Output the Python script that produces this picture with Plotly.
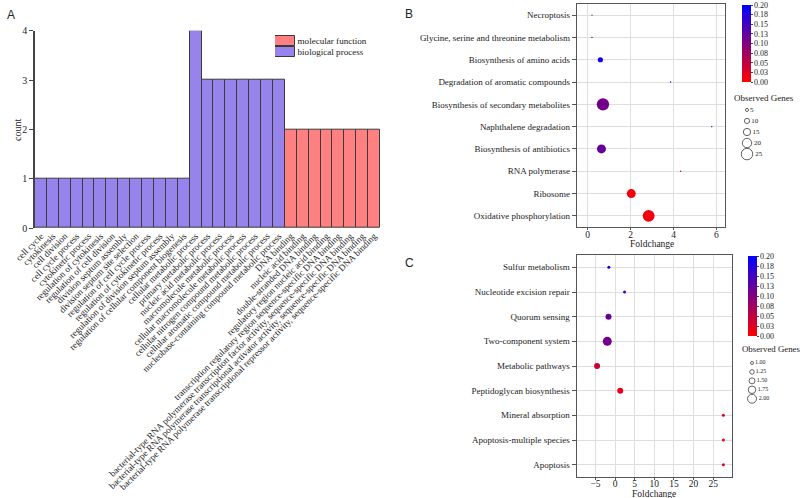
import plotly.graph_objects as go

W, H = 800, 498
SERIF = "Liberation Serif"

# ---------------- Panel A data ----------------
bp_terms = [
    "cell cycle", "cytokinesis", "cell division", "cell cycle process",
    "cytokinetic process", "regulation of cytokinesis", "regulation of cell division",
    "division septum assembly", "division septum site selection",
    "regulation of cell cycle process", "regulation of cytokinetic process",
    "regulation of division septum assembly", "regulation of cellular component biogenesis",
    "cellular metabolic process", "primary metabolic process",
    "nucleic acid metabolic process", "macromolecule metabolic process",
    "cellular macromolecule metabolic process", "cellular nitrogen compound metabolic process",
    "cellular aromatic compound metabolic process",
    "nucleobase-containing compound metabolic process",
]
bp_counts = [1, 1, 1, 1, 1, 1, 1, 1, 1, 1, 1, 1, 1, 4, 3, 3, 3, 3, 3, 3, 3]
mf_terms = [
    "DNA binding", "nucleic acid binding", "double-stranded DNA binding",
    "regulatory region nucleic acid binding",
    "transcription regulatory region sequence-specific DNA binding",
    "bacterial-type RNA polymerase transcription factor activity, sequence-specific DNA binding",
    "bacterial-type RNA polymerase transcriptional activator activity, sequence-specific DNA binding",
    "bacterial-type RNA polymerase transcriptional repressor activity, sequence-specific DNA binding",
]
mf_counts = [2, 2, 2, 2, 2, 2, 2, 2]
count_ticks = [0, 1, 2, 3, 4]
legend_names = ["molecular function", "biological process"]
legend_colors = ["#FF8080", "#9683EC"]
legend_swatch = [1, 1]

# ---------------- Panel B data ----------------
path_B = [
    "Necroptosis", "Glycine, serine and threonine metabolism", "Biosynthesis of amino acids",
    "Degradation of aromatic compounds", "Biosynthesis of secondary metabolites",
    "Naphthalene degradation", "Biosynthesis of antibiotics", "RNA polymerase",
    "Ribosome", "Oxidative phosphorylation",
]
fold_B = [0.2, 0.2, 0.59, 3.86, 0.71, 5.78, 0.64, 4.33, 2.03, 2.84]
genes_B = [0.3, 0.8, 10, 1, 27, 1, 19, 1, 19, 26]
p_B = [0.15, 0.15, 0.19, 0.16, 0.11, 0.12, 0.12, 0.06, 0.01, 0.01]
legend_genes_B = [5, 10, 15, 20, 25]

# ---------------- Panel C data ----------------
path_C = [
    "Sulfur metabolism", "Nucleotide excision repair", "Quorum sensing",
    "Two-component system", "Metabolic pathways", "Peptidoglycan biosynthesis",
    "Mineral absorption", "Apoptosis-multiple species", "Apoptosis",
]
fold_C = [-1.6, 2.4, -1.7, -2.0, -4.6, 1.3, 27.6, 27.6, 27.6]
genes_C = [1, 1, 1.5, 2, 1.5, 1.5, 1, 1, 1]
p_C = [0.19, 0.15, 0.12, 0.11, 0.04, 0.02, 0.03, 0.03, 0.03]
legend_genes_C = [1.00, 1.25, 1.50, 1.75, 2.00]

cbar_vals = [0, 0.025, 0.05, 0.075, 0.1, 0.125, 0.15, 0.175, 0.2]
cbar_text = ["0.00", "0.03", "0.05", "0.08", "0.10", "0.13", "0.15", "0.18", "0.20"]


def dxp(a, b):
    return [a / W, b / W]


def dyp(top, bottom):
    return [1 - bottom / H, 1 - top / H]


def size_B(g):
    return 0.42 * g + 1


def size_C(g):
    return 3 + 6 * (g - 1)


fig = go.Figure()

# Panel A bars
fig.add_trace(go.Bar(
    x=bp_terms, y=bp_counts, name="biological process", xaxis="x", yaxis="y",
    marker=dict(color="#9683EC", line=dict(color="#3a3a3a", width=1)), showlegend=False,
))
fig.add_trace(go.Bar(
    x=mf_terms, y=mf_counts, name="molecular function", xaxis="x", yaxis="y",
    marker=dict(color="#FF8080", line=dict(color="#3a3a3a", width=1)), showlegend=False,
))
# Panel A legend swatches
fig.add_trace(go.Bar(
    y=legend_names, x=legend_swatch, orientation="h", xaxis="x6", yaxis="y6",
    marker=dict(color=legend_colors, line=dict(color="#3a3a3a", width=1)),
    text=legend_names, textposition="outside", cliponaxis=False, width=0.9,
    textfont=dict(family=SERIF, size=10, color="#222"), showlegend=False,
    hoverinfo="skip",
))

# Panel B bubbles
fig.add_trace(go.Scatter(
    x=fold_B, y=path_B, mode="markers", xaxis="x2", yaxis="y2", showlegend=False,
    marker=dict(size=[size_B(g) for g in genes_B], color=p_B, coloraxis="coloraxis",
                line=dict(width=0), opacity=1),
))
# Panel C bubbles
fig.add_trace(go.Scatter(
    x=fold_C, y=path_C, mode="markers", xaxis="x3", yaxis="y3", showlegend=False,
    marker=dict(size=[size_C(g) for g in genes_C], color=p_C, coloraxis="coloraxis2",
                line=dict(width=0), opacity=1),
))

# Size legend B
fig.add_trace(go.Scatter(
    x=[0] * len(legend_genes_B), y=legend_genes_B, mode="markers+text",
    text=[f"{v}" for v in legend_genes_B], textposition="middle right",
    textfont=dict(family=SERIF, size=7, color="#222"),
    xaxis="x4", yaxis="y4", showlegend=False, cliponaxis=False,
    marker=dict(size=[size_B(g) for g in legend_genes_B], color="white",
                line=dict(color="#222", width=1)),
))
# Size legend C
fig.add_trace(go.Scatter(
    x=[0] * len(legend_genes_C), y=legend_genes_C, mode="markers+text",
    text=[f"{v:.2f}" for v in legend_genes_C], textposition="middle right",
    textfont=dict(family=SERIF, size=6, color="#222"),
    xaxis="x5", yaxis="y5", showlegend=False, cliponaxis=False,
    marker=dict(size=[size_C(g) for g in legend_genes_C], color="white",
                line=dict(color="#222", width=1)),
))

all_terms = bp_terms + mf_terms
frame = "#555555"
grid = "#dedede"

cb_common = dict(
    thickness=9, thicknessmode="pixels", lenmode="fraction", outlinewidth=0,
    tickvals=cbar_vals, ticktext=cbar_text, ticks="outside", ticklen=2,
    tickfont=dict(family=SERIF, size=8, color="#222"), xanchor="left", yanchor="top",
    xpad=0, ypad=0,
)
cscale = [[0, "#FF0000"], [1, "#0000FF"]]

fig.update_layout(
    width=W, height=H, margin=dict(l=0, r=0, t=0, b=0),
    paper_bgcolor="white", plot_bgcolor="white",
    barmode="group", bargap=0, bargroupgap=0,
    font=dict(family=SERIF, color="#222"),
    showlegend=False,
    xaxis=dict(domain=dxp(35, 380), type="category", categoryorder="array",
               categoryarray=all_terms, range=[-0.5, 28.5], tickangle=-45,
               tickfont=dict(family=SERIF, size=9.2, color="#222"), ticks="",
               showline=False, showgrid=False, automargin=False, fixedrange=True),
    yaxis=dict(domain=dyp(30.7, 228), range=[0, 4], tickvals=count_ticks,
               ticks="outside", ticklen=4, tickcolor="#444", showline=True,
               linecolor="#444", linewidth=1.5, showgrid=False, zeroline=False,
               tickfont=dict(family=SERIF, size=10, color="#222"), automargin=False),
    xaxis6=dict(domain=dxp(275, 365), range=[0, 4.5], visible=False, anchor="y6"),
    yaxis6=dict(domain=dyp(35, 58), type="category", categoryorder="array",
                categoryarray=legend_names, range=[1.5, -0.5], visible=False, anchor="x6"),
    xaxis2=dict(domain=dxp(577, 725), range=[-0.5, 6.4], dtick=2, anchor="y2",
                showgrid=True, gridcolor=grid, gridwidth=1.2, zeroline=False,
                showline=True, mirror=True, linecolor=frame, linewidth=1.2,
                ticks="outside", ticklen=2, tickcolor=frame, ticklabelstandoff=-4,
                tickfont=dict(family=SERIF, size=9.5, color="#222"), automargin=False),
    yaxis2=dict(domain=dyp(4, 227), type="category", categoryorder="array",
                categoryarray=path_B, range=[9.5, -0.5], anchor="x2",
                showgrid=True, gridcolor=grid, gridwidth=1.2,
                showline=True, mirror=True, linecolor=frame, linewidth=1.2,
                ticks="outside", ticklen=4, tickcolor=frame,
                minor=dict(ticks="outside", ticklen=2, tickcolor=frame, showgrid=False),
                tickfont=dict(family=SERIF, size=9, color="#222"), automargin=False),
    xaxis3=dict(domain=dxp(576.7, 732), range=[-9.8, 29.8], dtick=5, anchor="y3",
                showgrid=True, gridcolor=grid, gridwidth=1.2, zeroline=False,
                showline=True, mirror=True, linecolor=frame, linewidth=1.2,
                ticks="outside", ticklen=2, tickcolor=frame, ticklabelstandoff=-5,
                tickfont=dict(family=SERIF, size=9.5, color="#222"), automargin=False),
    yaxis3=dict(domain=dyp(255, 477), type="category", categoryorder="array",
                categoryarray=path_C, range=[8.5, -0.5], anchor="x3",
                showgrid=True, gridcolor=grid, gridwidth=1.2,
                showline=True, mirror=True, linecolor=frame, linewidth=1.2,
                ticks="outside", ticklen=4, tickcolor=frame,
                minor=dict(ticks="outside", ticklen=2, tickcolor=frame, showgrid=False),
                tickfont=dict(family=SERIF, size=9, color="#222"), automargin=False),
    xaxis4=dict(domain=dxp(741, 753), range=[-1, 1], visible=False, anchor="y4"),
    yaxis4=dict(domain=dyp(104.4, 159.6), range=[27.5, 2.5], visible=False, anchor="x4"),
    xaxis5=dict(domain=dxp(746, 758), range=[-1, 1], visible=False, anchor="y5"),
    yaxis5=dict(domain=dyp(358.5, 403.2), range=[2.125, 0.875], visible=False, anchor="x5"),
    coloraxis=dict(cmin=0, cmax=0.2, colorscale=cscale,
                   colorbar=dict(x=742 / W, y=1 - 5 / H, len=77 / H, **cb_common)),
    coloraxis2=dict(cmin=0, cmax=0.2, colorscale=cscale,
                    colorbar=dict(x=748 / W, y=1 - 256 / H, len=80 / H, **cb_common)),
)

annos = [
    dict(text="A", x=5 / W, y=1 - 15 / H, xanchor="left",
         font=dict(family="Liberation Sans", size=12)),
    dict(text="B", x=403 / W, y=1 - 14 / H, xanchor="left",
         font=dict(family="Liberation Sans", size=12)),
    dict(text="C", x=403 / W, y=1 - 263 / H, xanchor="left",
         font=dict(family="Liberation Sans", size=12)),
    dict(text="count", x=17 / W, y=1 - 130 / H, xanchor="center", textangle=-90,
         font=dict(family=SERIF, size=10)),
    dict(text="Foldchange", x=652 / W, y=1 - 244 / H, xanchor="center",
         font=dict(family=SERIF, size=9.5)),
    dict(text="Foldchange", x=654 / W, y=1 - 493.5 / H, xanchor="center",
         font=dict(family=SERIF, size=9.5)),
    dict(text="Observed Genes", x=764 / W, y=1 - 98 / H, xanchor="center",
         font=dict(family=SERIF, size=9)),
    dict(text="Observed Genes", x=740 / W, y=1 - 349 / H, xanchor="left",
         font=dict(family=SERIF, size=8.8)),
]
for a in annos:
    fig.add_annotation(xref="paper", yref="paper", yanchor="middle",
                       showarrow=False, **a)

fig.write_html("out.html", post_script="document.body.style.margin='0px';",
               config={"displayModeBar": False})
